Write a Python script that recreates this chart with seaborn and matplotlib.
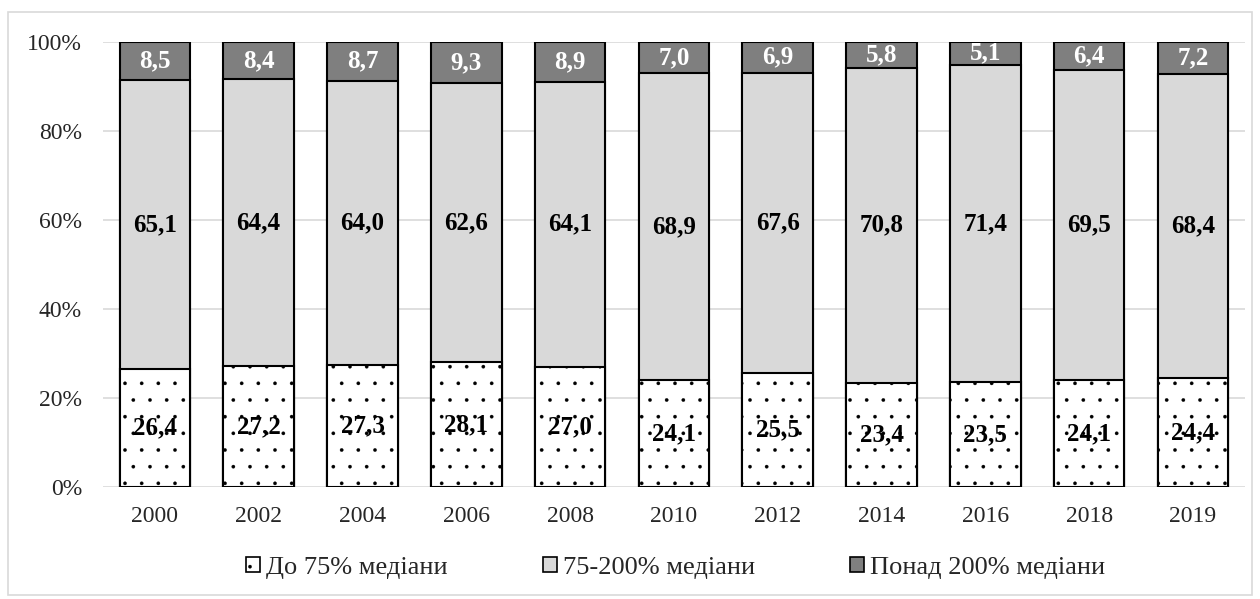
import numpy as np
import pandas as pd
import matplotlib
matplotlib.use("Agg")
import matplotlib.pyplot as plt
from matplotlib.patches import Patch, Rectangle
import seaborn as sns

years = ["2000", "2002", "2004", "2006", "2008", "2010", "2012", "2014", "2016", "2018", "2019"]
low = [26.4, 27.2, 27.3, 28.1, 27.0, 24.1, 25.5, 23.4, 23.5, 24.1, 24.4]
mid = [65.1, 64.4, 64.0, 62.6, 64.1, 68.9, 67.6, 70.8, 71.4, 69.5, 68.4]
high = [8.5, 8.4, 8.7, 9.3, 8.9, 7.0, 6.9, 5.8, 5.1, 6.4, 7.2]
labels = ["До 75% медіани", "75-200% медіани", "Понад 200% медіани"]
colors = ["white", "#d9d9d9", "#7f7f7f"]
hatches = [".", None, None]

sns.set_style("white")
plt.rcParams["font.family"] = ["Liberation Serif", "DejaVu Serif"]
plt.rcParams["hatch.linewidth"] = 0.2
plt.rcParams["hatch.color"] = "#222222"

df = pd.DataFrame({"year": years, "low": low, "mid": mid, "high": high})
df["cum_mid"] = df["low"] + df["mid"]
df["cum_high"] = df["cum_mid"] + df["high"]

fig = plt.figure(figsize=(12.6, 5.99), dpi=100)
ax = fig.add_axes([0.0817, 0.187, 0.9063, 0.743])

# draw from tallest to shortest so the stacks overlap correctly
for col, c, h in [("cum_high", colors[2], None), ("cum_mid", colors[1], None), ("low", colors[0], ".")]:
    sns.barplot(data=df, x="year", y=col, color=c, edgecolor="black", linewidth=1.5,
                hatch=h, width=0.68, saturation=1, ax=ax, zorder=3)

# value labels in the middle of each segment
for i in range(len(years)):
    ax.text(i, low[i] / 2, f"{low[i]:.1f}".replace(".", ","), ha="center", va="center",
            fontsize=18, fontweight="bold", color="black", zorder=5)
    ax.text(i, low[i] + mid[i] / 2, f"{mid[i]:.1f}".replace(".", ","), ha="center", va="center",
            fontsize=18, fontweight="bold", color="black", zorder=5)
    ax.text(i, low[i] + mid[i] + high[i] / 2, f"{high[i]:.1f}".replace(".", ","), ha="center",
            va="center", fontsize=18, fontweight="bold", color="white", zorder=5)

ax.set_ylim(0, 100)
ax.set_xlim(-0.5, len(years) - 0.5)
ax.set_yticks(range(0, 101, 20))
ax.set_yticklabels([f"{v}%" for v in range(0, 101, 20)])
ax.set_xlabel("")
ax.set_ylabel("")
ax.tick_params(axis="both", length=0, labelsize=17)
ax.tick_params(axis="y", pad=15)
ax.tick_params(axis="x", pad=14)
ax.grid(axis="y", color="#d9d9d9", linewidth=1.2, zorder=0)
ax.set_axisbelow(True)
sns.despine(ax=ax, left=True, bottom=True)

handles = [Patch(facecolor=colors[k], edgecolor="black", hatch=hatches[k], linewidth=1.2)
           for k in range(3)]
fig.legend(handles, labels, loc="center", bbox_to_anchor=(0.536, 1 - 568 / 599), ncol=3,
           frameon=False, fontsize=19, handlelength=0.53, handleheight=0.53,
           handletextpad=0.23, columnspacing=3.6)

# light outer border
fig.patches.append(Rectangle((8 / 1260, 4 / 599), 1244 / 1260, 583 / 599, transform=fig.transFigure,
                             fill=False, edgecolor="#d9d9d9", linewidth=1.2))

fig.savefig("out.png", dpi=100)
